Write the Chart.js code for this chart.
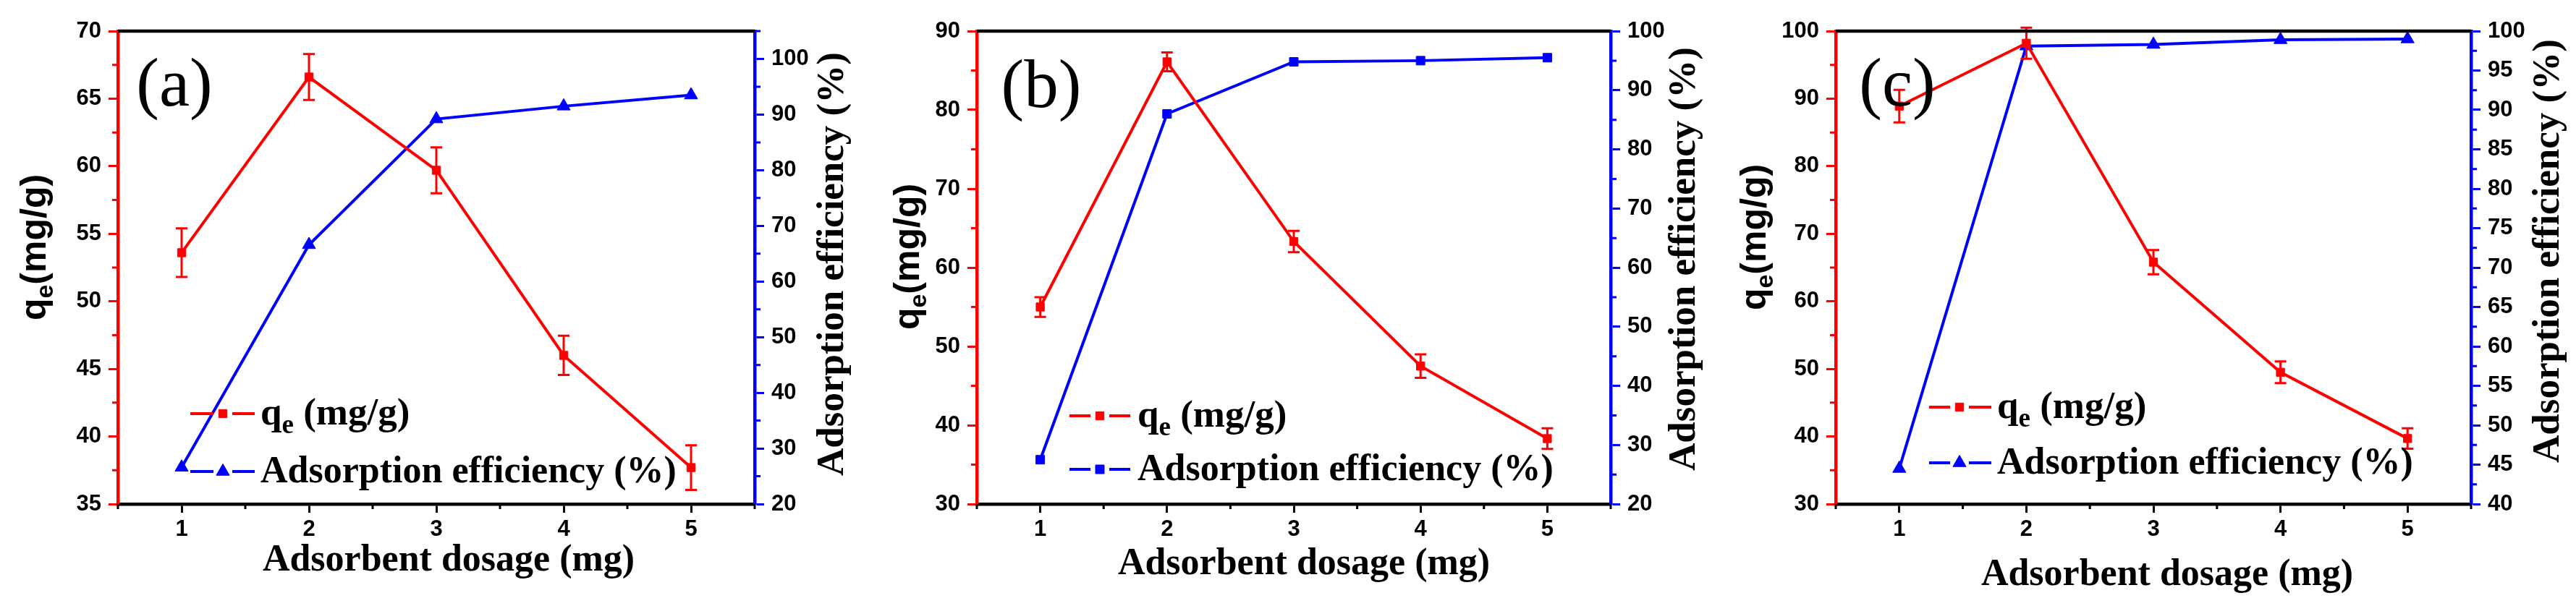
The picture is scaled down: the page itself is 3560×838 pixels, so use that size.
<!DOCTYPE html>
<html>
<head>
<meta charset="utf-8">
<script src="https://cdn.jsdelivr.net/npm/chart.js@4.4.1/dist/chart.umd.min.js"></script>
<style>
  html, body { margin: 0; padding: 0; background: #fff; }
  #wrap { position: relative; width: 3560px; height: 838px; overflow: hidden; background: #fff; }
  canvas { position: absolute; top: 0; }
</style>
</head>
<body>
<div id="wrap">
  <canvas id="chart-a" width="1190" height="838" style="left:0px"></canvas>
  <canvas id="chart-b" width="1190" height="838" style="left:1190px"></canvas>
  <canvas id="chart-c" width="1180" height="838" style="left:2380px"></canvas>
</div>
<script>
// 흡착제 투입량 (mg)
const doses = [1, 2, 3, 4, 5];
const doseTicks = [1, 2, 3, 4, 5];

// (a)
const qeA = [53.6, 66.6, 59.7, 46.0, 37.7];
const qeErrA = [1.8, 1.7, 1.7, 1.45, 1.65];
const effA = [26.6, 66.6, 89.2, 91.5, 93.5];
const qeTicksA = [35, 40, 45, 50, 55, 60, 65, 70];
const effTicksA = [20, 30, 40, 50, 60, 70, 80, 90, 100];

// (b)
const qeB = [55.0, 86.1, 63.3, 47.5, 38.3];
const qeErrB = [1.25, 1.2, 1.35, 1.5, 1.3];
const effB = [27.5, 86.0, 94.8, 95.0, 95.5];
const qeTicksB = [30, 40, 50, 60, 70, 80, 90];
const effTicksB = [20, 30, 40, 50, 60, 70, 80, 90, 100];

// (c)
const qeC = [88.9, 98.2, 65.8, 49.5, 39.7];
const qeErrC = [2.4, 2.3, 1.8, 1.6, 1.5];
const effC = [44.5, 98.1, 98.3, 98.9, 99.0];
const qeTicksC = [30, 40, 50, 60, 70, 80, 90, 100];
const effTicksC = [40, 45, 50, 55, 60, 65, 70, 75, 80, 85, 90, 95, 100];

const RED = '#ff0000';
const BLUE = '#0000ff';
const SANS = '"Liberation Sans", Arial, sans-serif';
const SERIF = '"Liberation Serif", "Times New Roman", serif';
const H = 838;

const PANELS = [
  {
    id: 'chart-a', label: '(a)', width: 1190, left: 163, right: 1043,
    qe: qeA, err: qeErrA, eff: effA, qeTicks: qeTicksA, effTicks: effTicksA,
    qeMin: 35, qeMax: 70, effMin: 20, effMax: 105, effStyle: 'triangle',
    labelPos: [241, 146], xTitle: [620, 789], yTitle: [50, 342], y2Title: [1151, 365],
    legend: { x0: 263, x1: 352, xm: 308, y1: 572, y2: 652, tx: 360 }
  },
  {
    id: 'chart-b', label: '(b)', width: 1190, left: 160, right: 1036,
    qe: qeB, err: qeErrB, eff: effB, qeTicks: qeTicksB, effTicks: effTicksB,
    qeMin: 30, qeMax: 90, effMin: 20, effMax: 100, effStyle: 'rect',
    labelPos: [249, 148], xTitle: [612, 794], yTitle: [67, 355], y2Title: [1138, 358],
    legend: { x0: 288, x1: 372, xm: 330, y1: 575, y2: 649, tx: 382 }
  },
  {
    id: 'chart-c', label: '(c)', width: 1180, left: 157, right: 1035,
    qe: qeC, err: qeErrC, eff: effC, qeTicks: qeTicksC, effTicks: effTicksC,
    qeMin: 30, qeMax: 100, effMin: 40, effMax: 100, effStyle: 'triangle',
    labelPos: [242, 146], xTitle: [615, 809], yTitle: [47, 328], y2Title: [1142, 347],
    legend: { x0: 286, x1: 372, xm: 328, y1: 563, y2: 640, tx: 380 }
  }
];

function minorsOf(ticks, min, max) {
  const out = [];
  const step = ticks[1] - ticks[0];
  const vals = [ticks[0] - step / 2, ...ticks.map(t => t + step / 2)];
  vals.forEach(v => { if (v >= min - 1e-9 && v <= max + 1e-9) out.push(v); });
  return out;
}

// 아래첨자가 있는 텍스트 그리기 (parts: [{t, font, dy}])
function drawParts(ctx, parts, x, y, align) {
  let total = 0;
  parts.forEach(p => { ctx.font = p.font; p.w = ctx.measureText(p.t).width; total += p.w; });
  let cx = align === 'center' ? x - total / 2 : x;
  ctx.textAlign = 'left';
  ctx.textBaseline = 'alphabetic';
  parts.forEach(p => {
    ctx.font = p.font;
    ctx.fillText(p.t, cx, y + (p.dy || 0));
    cx += p.w;
  });
}

function decorPlugin(p) {
  return {
    id: 'decor_' + p.id,
    afterDatasetsDraw(chart) {
      // 오차 막대
      const { ctx } = chart;
      const xs = chart.scales.x, ys = chart.scales.yL;
      ctx.save();
      ctx.strokeStyle = RED;
      ctx.lineWidth = 3;
      doses.forEach((d, i) => {
        const px = xs.getPixelForValue(d);
        const top = ys.getPixelForValue(p.qe[i] + p.err[i]);
        const bot = ys.getPixelForValue(p.qe[i] - p.err[i]);
        ctx.beginPath();
        ctx.moveTo(px, top); ctx.lineTo(px, bot);
        ctx.moveTo(px - 8, top); ctx.lineTo(px + 8, top);
        ctx.moveTo(px - 8, bot); ctx.lineTo(px + 8, bot);
        ctx.stroke();
      });
      ctx.restore();
    },
    afterDraw(chart) {
      const { ctx, chartArea: ca } = chart;
      const xs = chart.scales.x, yL = chart.scales.yL, yR = chart.scales.yR;
      ctx.save();

      // 상단 테두리
      ctx.strokeStyle = '#000';
      ctx.lineWidth = 4.5;
      ctx.beginPath();
      ctx.moveTo(ca.left, ca.top); ctx.lineTo(ca.right, ca.top);
      ctx.stroke();

      // 보조 눈금
      ctx.lineWidth = 3;
      ctx.strokeStyle = '#000';
      ctx.beginPath();
      minorsOf(doseTicks, 0.5, 5.5).forEach(v => {
        const px = xs.getPixelForValue(v);
        ctx.moveTo(px, ca.bottom); ctx.lineTo(px, ca.bottom + 7);
      });
      ctx.stroke();
      ctx.strokeStyle = RED;
      ctx.beginPath();
      minorsOf(p.qeTicks, p.qeMin, p.qeMax).forEach(v => {
        const py = yL.getPixelForValue(v);
        ctx.moveTo(ca.left, py); ctx.lineTo(ca.left - 8, py);
      });
      ctx.stroke();
      ctx.strokeStyle = BLUE;
      ctx.beginPath();
      minorsOf(p.effTicks, p.effMin, p.effMax).forEach(v => {
        const py = yR.getPixelForValue(v);
        ctx.moveTo(ca.right, py); ctx.lineTo(ca.right + 8, py);
      });
      ctx.stroke();

      ctx.fillStyle = '#000';
      // 패널 라벨
      ctx.font = `95px ${SERIF}`;
      ctx.textAlign = 'center';
      ctx.textBaseline = 'alphabetic';
      ctx.fillText(p.label, p.labelPos[0], p.labelPos[1]);

      // x축 제목
      ctx.font = `bold 52px ${SERIF}`;
      ctx.fillText('Adsorbent dosage (mg)', p.xTitle[0], p.xTitle[1]);

      // 왼쪽 y축 제목
      ctx.save();
      ctx.translate(p.yTitle[0] + 13, p.yTitle[1]);
      ctx.rotate(-Math.PI / 2);
      drawParts(ctx, [
        { t: 'q', font: `bold 50px ${SANS}` },
        { t: 'e', font: `bold 34px ${SANS}`, dy: 10 },
        { t: '(mg/g)', font: `bold 50px ${SANS}` }
      ], 0, 0, 'center');
      ctx.restore();

      // 오른쪽 y축 제목
      ctx.save();
      ctx.translate(p.y2Title[0] + 14, p.y2Title[1]);
      ctx.rotate(-Math.PI / 2);
      ctx.font = `bold 53px ${SERIF}`;
      ctx.textAlign = 'center';
      ctx.fillText('Adsorption efficiency (%)', 0, 0);
      ctx.restore();

      // 범례
      const lg = p.legend;
      const entries = [
        { color: RED, style: 'rect', radius: 8, y: lg.y1, parts: [
          { t: 'q', font: `bold 53px ${SERIF}` },
          { t: 'e', font: `bold 37px ${SERIF}`, dy: 12 },
          { t: ' (mg/g)', font: `bold 53px ${SERIF}` }
        ] },
        { color: BLUE, style: p.effStyle, radius: p.effStyle === 'rect' ? 8.5 : 10.5, y: lg.y2, parts: [
          { t: 'Adsorption efficiency (%)', font: `bold 52px ${SERIF}` }
        ] }
      ];
      entries.forEach(e => {
        ctx.strokeStyle = e.color;
        ctx.fillStyle = e.color;
        ctx.lineWidth = 4;
        ctx.beginPath();
        ctx.moveTo(lg.x0, e.y); ctx.lineTo(lg.xm - 13, e.y);
        ctx.moveTo(lg.xm + 13, e.y); ctx.lineTo(lg.x1, e.y);
        ctx.stroke();
        ctx.lineWidth = 1;
        Chart.helpers.drawPoint(ctx, { pointStyle: e.style, radius: e.radius, borderWidth: 1, rotation: 0 }, lg.xm, e.y);
        ctx.fillStyle = '#000';
        drawParts(ctx, e.parts, lg.tx, e.y + 15, 'left');
      });
      ctx.restore();
    }
  };
}

function yAxis(pos, min, max, ticks, color, width) {
  return {
    type: 'linear', position: pos, min, max,
    afterBuildTicks: s => { s.ticks = ticks.map(v => ({ value: v })); },
    afterFit: s => { s.width = width; },
    grid: { drawOnChartArea: false, drawTicks: true, tickLength: 13, tickWidth: 3, color, tickColor: color },
    border: { display: true, color, width: 4.5 },
    ticks: { color: '#000', padding: 10, font: { family: SANS, size: 31, weight: 'bold' } }
  };
}

function renderPanel(p) {
  const ctx = document.getElementById(p.id);
  new Chart(ctx, {
    type: 'line',
    data: {
      datasets: [
        {
          label: 'qe (mg/g)',
          data: doses.map((d, i) => ({ x: d, y: p.qe[i] })),
          yAxisID: 'yL',
          borderColor: RED, backgroundColor: RED, borderWidth: 4,
          pointStyle: 'rect', pointRadius: 8, pointBorderWidth: 1,
          pointBackgroundColor: RED, pointBorderColor: RED,
          tension: 0, clip: false
        },
        {
          label: 'Adsorption efficiency (%)',
          data: doses.map((d, i) => ({ x: d, y: p.eff[i] })),
          yAxisID: 'yR',
          borderColor: BLUE, backgroundColor: BLUE, borderWidth: 4,
          pointStyle: p.effStyle, pointRadius: p.effStyle === 'rect' ? 8.5 : 10.5, pointBorderWidth: 1,
          pointBackgroundColor: BLUE, pointBorderColor: BLUE,
          tension: 0, clip: false
        }
      ]
    },
    options: {
      responsive: false, animation: false,
      layout: { padding: { top: 43, left: 0, right: 0, bottom: 0 } },
      plugins: { legend: { display: false }, tooltip: { enabled: false } },
      scales: {
        x: {
          type: 'linear', position: 'bottom', min: 0.5, max: 5.5,
          afterBuildTicks: s => { s.ticks = doseTicks.map(v => ({ value: v })); },
          afterFit: s => { s.height = H - 697; },
          grid: { drawOnChartArea: false, drawTicks: true, tickLength: 12, tickWidth: 3, color: '#000', tickColor: '#000' },
          border: { display: true, color: '#000', width: 4.5 },
          ticks: { color: '#000', padding: 5, font: { family: SANS, size: 31, weight: 'bold' } }
        },
        yL: yAxis('left', p.qeMin, p.qeMax, p.qeTicks, RED, p.left),
        yR: yAxis('right', p.effMin, p.effMax, p.effTicks, BLUE, p.width - p.right)
      }
    },
    plugins: [decorPlugin(p)]
  });
}

PANELS.forEach(renderPanel);
</script>
</body>
</html>
